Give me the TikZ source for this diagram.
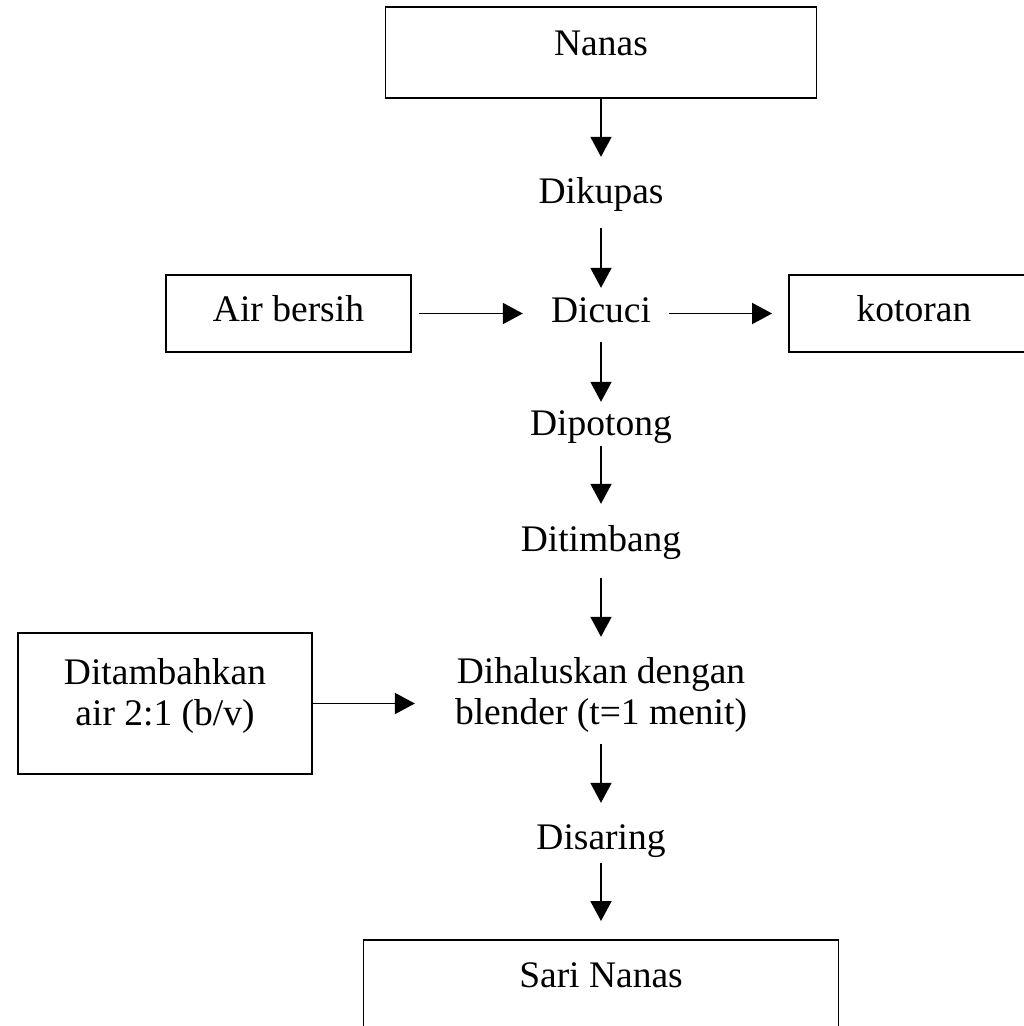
\documentclass[tikz,border=0pt]{standalone}
\usepackage{fontspec}
\setmainfont{Liberation Serif}
\usetikzlibrary{arrows.meta,positioning}

\begin{document}
\begin{tikzpicture}[x=1pt,y=-1pt,font=\fontsize{37.5}{41}\selectfont,>={Triangle[length=20pt,width=21pt]},
  box/.style={rectangle,draw=black,line width=1.9pt,inner sep=0pt,anchor=base,align=center},
  stepnode/.style={inner sep=0pt,anchor=base,text height=24pt,text depth=7pt,align=center},
  flow/.style={->,draw=black,line width=1.9pt}]
\clip (0,0) rectangle (1024,1026);
\node[box,minimum width=431pt,text height=48pt,text depth=43pt] (nanas) at (601,55) {Nanas};
\node[stepnode] (dikupas) at (601,203) {Dikupas};
\node[stepnode] (dicuci) at (601,322) {Dicuci};
\node[stepnode] (dipotong) at (601,435) {Dipotong};
\node[stepnode] (ditimbang) at (601,551) {Ditimbang};
\node[stepnode,text height=65pt] (dihalus) at (601,724) {Dihaluskan dengan\\blender (t=1 menit)};
\node[stepnode] (disaring) at (601,849) {Disaring};
\node[box,minimum width=475pt,text height=47pt,text depth=44pt] (sari) at (601,987) {Sari Nanas};
\node[box,minimum width=245pt,text height=46pt,text depth=31pt] (air) at (288.5,321) {Air bersih};
\node[box,minimum width=250pt,text height=46pt,text depth=31pt] (kotoran) at (914,321) {kotoran};
\node[box,minimum width=294pt,text height=92pt,text depth=49pt] (ditambah) at (165,725) {Ditambahkan\\air 2:1 (b/v)};
\draw[flow,shorten >=22pt] (nanas) -- (dikupas);
\draw[flow,shorten <=18pt,shorten >=10pt] (dikupas) -- (dicuci);
\draw[flow,shorten <=13pt,shorten >=9pt] (dicuci) -- (dipotong);
\draw[flow,shorten <=4pt,shorten >=23pt] (dipotong) -- (ditimbang);
\draw[flow,shorten <=20pt,shorten >=22pt] (ditimbang) -- (dihalus);
\draw[flow,shorten <=13pt,shorten >=22pt] (dihalus) -- (disaring);
\draw[flow,shorten <=7pt,shorten >=18pt] (disaring) -- (sari);
\draw[flow,shorten <=7pt,shorten >=28pt] (air) -- (dicuci);
\draw[flow,shorten <=18pt,shorten >=16pt] (dicuci) -- (kotoran);
\draw[flow,shorten >=40pt] (ditambah.east) -- (ditambah.east -| dihalus.west);
\end{tikzpicture}
\end{document}
